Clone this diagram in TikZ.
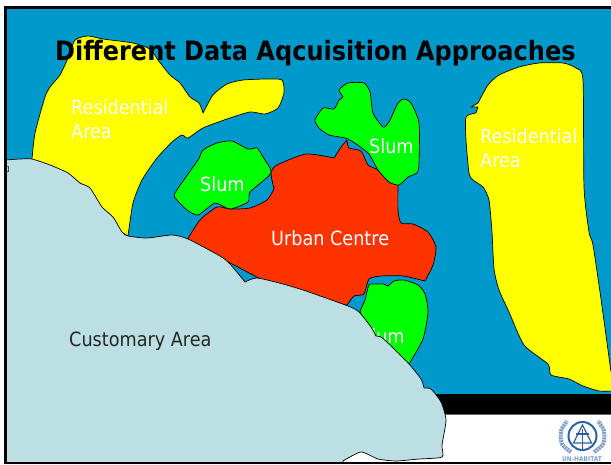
\documentclass[tikz,border=0pt]{standalone}
\usepackage{fontspec}
\setmainfont{DejaVu Sans}[FakeStretch=0.9]
\definecolor{seablue}{HTML}{0099CC}
\definecolor{custblue}{HTML}{BBDFE2}
\definecolor{urbanred}{HTML}{FF3300}
\definecolor{logoblue}{HTML}{2F62A3}
\definecolor{logolight}{HTML}{7F9FCB}
\definecolor{resyellow}{RGB}{255,255,0}
\definecolor{slumgreen}{RGB}{0,255,0}
\tikzset{
  region/.style={draw=black,line width=0.7pt,line join=round},
  smth/.style={smooth,tension=0.38},
  lbl/.style={font=\fontsize{19.6pt}{24pt}\selectfont,text=white,inner sep=0pt,anchor=base west,align=left},
}
\begin{document}
\begin{tikzpicture}[x=1pt,y=-1pt]
\useasboundingbox (0,0) rectangle (611,464);
\fill[white] (0,0) rectangle (611,464);
\fill[seablue] (5,7) rectangle (611,394);
\fill[black] (420,394) rectangle (611,414);
\draw[black!60,line width=0.6pt] (420,414.5) -- (611,414.5);
% left residential
\path[region,fill=resyellow] plot[smth] coordinates {(32,159) (35,133) (45,97) (50,87) (60,75) (68,58) (75,40) (88,36) (103,39) (133,43) (150,49) (158,60) (170,75) (180,83) (190,97) (199,103) (203,113)}
  -- plot[smth] coordinates {(203,113) (213,95) (227,84) (243,80) (267,79) (282,80) (284,93) (278,108) (265,114) (250,112) (227,119) (203,128) (188,138) (182,135) (172,142) (157,158) (142,180) (133,203) (128,236)}
  -- (70,200) -- cycle;
% right residential
\path[region,fill=resyellow] (471,107) -- (478,107) -- (476,113) -- plot[smth] coordinates {(476,113) (466,117) (466,140) (469,173) (473,180) (483,187) (489,200) (492,232) (494,269) (499,290) (509,312) (524,345) (548,364) (551,375) (569,379) (583,386) (599,391) (613,391)}
  -- (613,372) -- plot[smth] coordinates {(611,372) (601,299) (593,245) (589,232) (584,187) (583,80) (576,68) (563,63) (539,63) (519,67) (499,75) (488,85) (478,103)} -- cycle;
% urban centre
\path[region,fill=urbanred] plot[smth] coordinates {(187,240) (200,220) (217,207) (230,209) (250,208) (267,200) (274,189)}
  -- plot[smth] coordinates {(274,189) (271,173) (277,165) (306,154) (334,158)}
  -- plot[smth] coordinates {(334,158) (341,147) (347,140)}
  -- plot[smth] coordinates {(347,140) (349,148) (361,151) (368,165) (378,170) (389,182) (398,184)}
  -- plot[smth] coordinates {(398,184) (398,210) (401,223) (413,224) (428,232) (436,247) (433,265) (425,281)}
  -- plot[smth] coordinates {(425,281) (403,276) (381,276) (369,279) (364,294) (354,296) (347,305)}
  -- (300,300) -- cycle;
% slums
\path[region,fill=slumgreen] plot[smooth cycle,tension=0.38] coordinates {(175,193) (198,160) (203,150) (217,143) (232,141) (248,149) (257,148) (263,157) (271,173) (250,192) (248,202) (230,209) (215,203) (198,215) (187,210) (177,200)};
\path[region,fill=slumgreen] plot[smooth cycle,tension=0.38] coordinates {(315,120) (323,108) (334,109) (339,100) (343,97) (339,90) (348,83) (364,83) (370,92) (373,113) (383,127) (389,122) (398,103) (404,99) (411,103) (419,123) (419,163) (417,173) (408,177) (399,185) (389,182) (378,170) (368,153) (348,139) (329,135) (319,128)};
\path[region,fill=slumgreen] plot[smth] coordinates {(360,311) (365,300) (369,285) (376,284) (384,284) (388,286) (394,281) (404,280) (418,285) (425,294) (428,312) (423,339) (409,364)} -- (370,340) -- cycle;
% labels under the customary area
\node[lbl] (res1) at (71,138) {Residential\\Area};
\node[lbl] (res2) at (480,167) {Residential\\Area};
\node[lbl] (slum1) at (200,191) {Slum};
\node[lbl] (slum2) at (369,153) {Slum};
\node[lbl] (slum3) at (360,343) {Slum};
\node[lbl] (urban) at (271,245) {Urban Centre};
% logo
\draw[logolight,line width=4pt,dash pattern=on 2pt off 0.8pt] plot[smooth] coordinates {(571,452) (562,444) (561,431) (567,421)};
\draw[logolight,line width=4pt,dash pattern=on 2pt off 0.8pt] plot[smooth] coordinates {(594,452) (603,444) (604,431) (598,421)};
\draw[logoblue,line width=2pt] (582.5,436) circle[radius=14];
\draw[logoblue,line width=1.2pt] (582.5,425) -- (573.5,443) -- (591.5,443) -- cycle;
\draw[logoblue,line width=1.2pt] (576,434) -- (589,434) (582.5,429) -- (582.5,449);
\node[inner sep=0pt,text=logolight,font=\bfseries\fontsize{6.5pt}{7pt}\selectfont] (logotext) at (582,459) {UN-HABITAT};
% customary area
\path[region,fill=custblue] plot[smth] coordinates {(5,160) (20,159) (32,159) (50,165) (68,173) (80,183) (90,188) (102,207) (113,217) (122,232) (128,236) (147,238) (172,235) (188,239) (220,256) (230,264) (245,282)}
  -- plot[smth] coordinates {(245,282) (257,278) (283,284) (306,291) (348,306) (359,312) (371,327) (376,336)}
  -- plot[smth] coordinates {(376,336) (381,337) (389,344) (409,364) (421,379) (424,388)}
  -- plot[smth] coordinates {(424,388) (431,389) (441,402) (446,420) (442,445) (442,457) (419,459) (396,461) (378,459) (361,452) (343,461)}
  -- (343,463) -- (5,463) -- cycle;
\node[lbl,text=black!85] (cust) at (69,346) {Customary Area};
\draw[black!70,line width=0.8pt] (7,166) -- (8.5,166) -- (8.5,171) -- (7,171);
% title
\node[inner sep=0pt,anchor=base west,font=\bfseries\fontsize{26.7pt}{30pt}\selectfont,text=black] (title) at (55,60) {Different Data Aqcuisition Approaches};
% frame
\fill[black] (4,6) rectangle (611,8.5);
\fill[black] (4,6) rectangle (7,464);
\fill[black] (4,461.5) rectangle (611,464);
\end{tikzpicture}
\end{document}
